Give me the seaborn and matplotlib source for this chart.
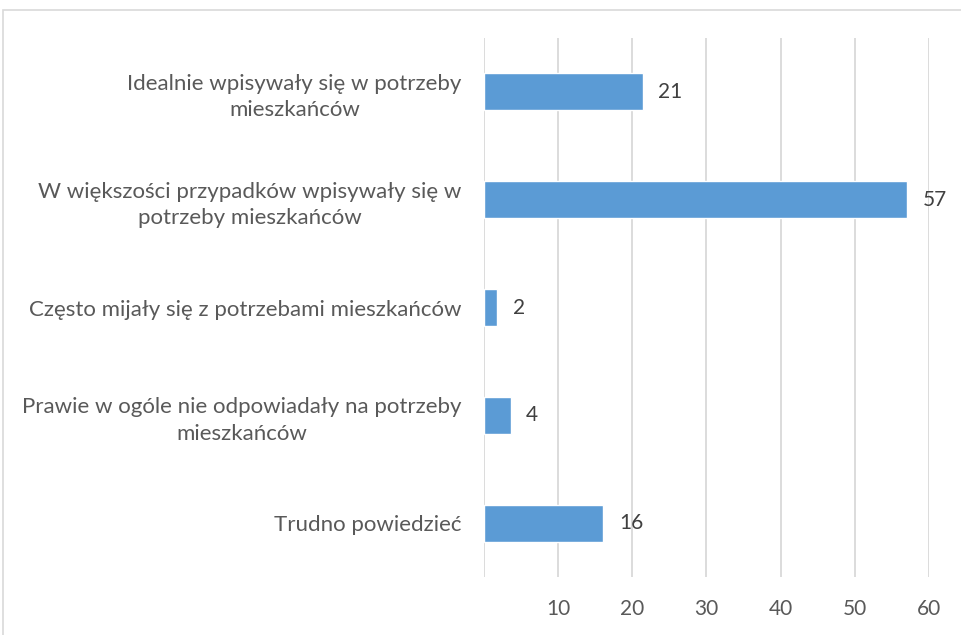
import matplotlib
matplotlib.use("Agg")
import matplotlib.pyplot as plt
import matplotlib.patches as mpatches
import seaborn as sns
import pandas as pd

sns.set_theme(style="white")
plt.rcParams["font.family"] = ["Lato", "DejaVu Sans"]

# data
categories = [
    "Idealnie wpisywały się w potrzeby\nmieszkańców",
    "W większości przypadków wpisywały się w\npotrzeby mieszkańców",
    "Często mijały się z potrzebami mieszkańców",
    "Prawie w ogóle nie odpowiadały na potrzeby\nmieszkańców",
    "Trudno powiedzieć",
]
values = [21.4, 57.1, 1.8, 3.6, 16.1]
x_ticks = [10, 20, 30, 40, 50, 60]

BAR_COLOR = "#5B9BD5"
GRID_COLOR = "#D9D9D9"
TEXT_COLOR = "#595959"

df = pd.DataFrame({"cat": categories, "val": values})

fig = plt.figure(figsize=(9.62, 6.35), dpi=100)
ax = fig.add_axes([484 / 962, 1 - 577 / 635, (929 - 484) / 962, (577 - 38) / 635])

sns.barplot(data=df, x="val", y="cat", orient="h", color=BAR_COLOR,
            width=0.345, saturation=1, ax=ax)

ax.set_xlim(0, 60)
ax.set_xticks(x_ticks)
ax.set_xticklabels([str(t) for t in x_ticks])
for t in [0] + x_ticks:
    ax.axvline(t, color=GRID_COLOR, lw=1.3, zorder=0)

for s in ax.spines.values():
    s.set_visible(False)

ax.set_xlabel("")
ax.set_ylabel("")
ax.tick_params(axis="x", length=0, pad=16, labelsize=15, labelcolor=TEXT_COLOR)
ax.tick_params(axis="y", length=0, pad=16, labelsize=16, labelcolor=TEXT_COLOR)
for lbl in ax.get_yticklabels():
    lbl.set_multialignment("center")
    lbl.set_linespacing(1.4)

for i, v in enumerate(values):
    ax.text(v + 2.1, i, f"{v:.0f}", va="center", ha="left",
            fontsize=15, color="#404040")

# outer chart border
fig.add_artist(mpatches.Rectangle((3 / 962, -0.1), 2, 1 - 10 / 635 + 0.1,
                                  transform=fig.transFigure, fill=False,
                                  edgecolor="#D9D9D9", lw=1.2))

fig.savefig("out.png", dpi=100)
